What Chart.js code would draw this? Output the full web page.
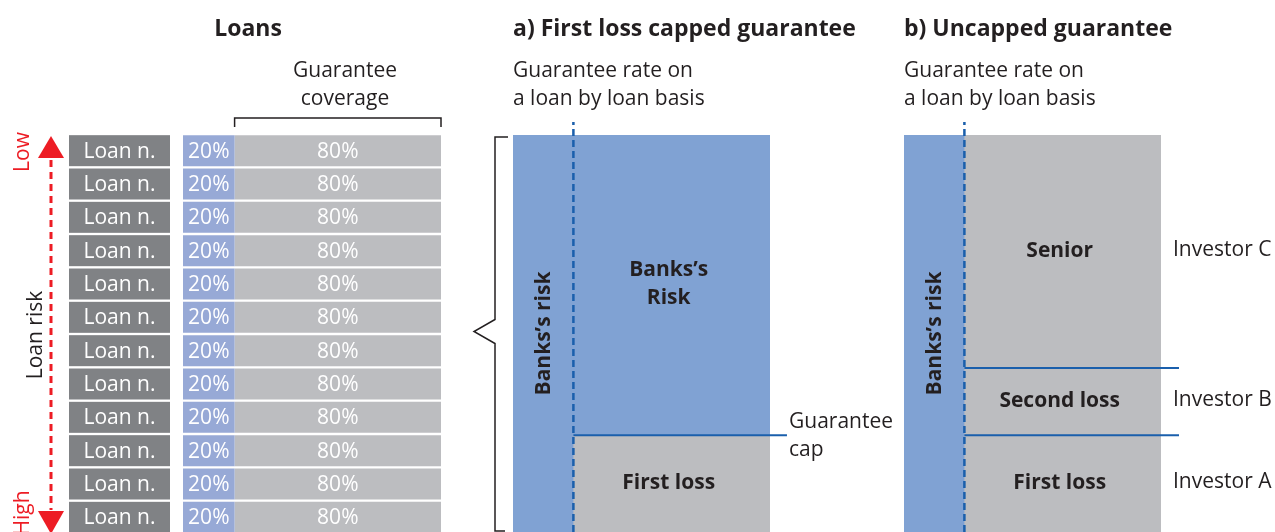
<!DOCTYPE html>
<html>
<head>
<meta charset="utf-8">
<script src="https://cdn.jsdelivr.net/npm/chart.js@4.4.1/dist/chart.umd.min.js"></script>
<style>
  body { margin: 0; width: 1275px; height: 532px; overflow: hidden; background: #fff;
         font-family: 'Open Sans', sans-serif; color: #231f20; position: relative; }
  canvas { position: absolute; top: 0; }
  .txt { position: absolute; white-space: nowrap; font-size: 21px; line-height: 28px; }
  .title { font-weight: 700; font-size: 23px; line-height: 30px; top: 12px; }
  .rot { transform: translate(-50%, -50%) rotate(-90deg); }
</style>
</head>
<body>
<canvas id="loansChart" width="460" height="534" style="left:0"></canvas>
<canvas id="cappedChart" width="360" height="532" style="left:460px"></canvas>
<canvas id="uncappedChart" width="395" height="532" style="left:880px"></canvas>

<div class="txt title" style="left:248px;transform:translateX(-50%)">Loans</div>
<div class="txt" style="left:345px;top:55px;text-align:center;transform:translateX(-50%)">Guarantee<br>coverage</div>
<div class="txt rot" style="left:21px;top:152px;color:#ed1c24">Low</div>
<div class="txt rot" style="left:21px;top:513px;color:#ed1c24">High</div>
<div class="txt rot" style="left:34px;top:335px">Loan risk</div>

<div class="txt title" style="left:513px">a) First loss capped guarantee</div>
<div class="txt" style="left:513px;top:55px">Guarantee rate on<br>a loan by loan basis</div>
<div class="txt" style="left:789px;top:406px">Guarantee<br>cap</div>

<div class="txt title" style="left:904px">b) Uncapped guarantee</div>
<div class="txt" style="left:904px;top:55px">Guarantee rate on<br>a loan by loan basis</div>

<script>
// loans table
const loanLabels = ['Loan n.', 'Loan n.', 'Loan n.', 'Loan n.', 'Loan n.', 'Loan n.',
                    'Loan n.', 'Loan n.', 'Loan n.', 'Loan n.', 'Loan n.', 'Loan n.'];
const bankShare = [20, 20, 20, 20, 20, 20, 20, 20, 20, 20, 20, 20];
const guaranteeShare = [80, 80, 80, 80, 80, 80, 80, 80, 80, 80, 80, 80];

// portfolio panels (% of loan on x, % of portfolio loss on y)
const bankStripe = 23.5;
const capLevel = 24.4;
const cappedTops = [24.4, 100];
const cappedNames = ['First loss', 'Banks\u2019s|Risk'];
const trancheTops = [24.4, 41.3, 100];
const trancheNames = ['First loss', 'Second loss', 'Senior'];
const investors = ['Investor A', 'Investor B', 'Investor C'];

const BLUE_LOAN = '#97a9d6';
const BLUE = '#80a2d3';
const GREY = '#bcbdc0';
const DARK = '#808285';
const LINE = '#1a5fac';
const RED = '#ed1c24';
const INK = '#231f20';

function rect(x0, x1, y0, y1) {
  return [{ x: x0, y: y0 }, { x: x0, y: y1 }, { x: x1, y: y1 }, { x: x1, y: y0 }, { x: x0, y: y0 }];
}

function shape(data, color, order) {
  return { data, backgroundColor: color, borderWidth: 0, fill: 'shape', pointRadius: 0, order };
}

function rule(data, dashed) {
  return { data, borderColor: LINE, borderWidth: dashed ? 2.5 : 2, borderDash: dashed ? [7, 4] : [],
           fill: false, pointRadius: 0, order: 0 };
}

function baseOptions(padding) {
  return {
    responsive: false,
    animation: false,
    events: [],
    clip: false,
    layout: { padding },
    plugins: { legend: { display: false }, tooltip: { enabled: false } },
    scales: {
      x: { type: 'linear', display: false, min: 0, max: 100 },
      y: { type: 'linear', display: false, min: 0, max: 100 }
    }
  };
}

const loanDecor = {
  id: 'loanDecor',
  beforeDatasetsDraw(chart) {
    const ctx = chart.ctx;
    const meta = chart.getDatasetMeta(0);
    ctx.save();
    ctx.font = '21px "Open Sans"';
    ctx.textAlign = 'center';
    ctx.textBaseline = 'middle';
    meta.data.forEach((bar, i) => {
      ctx.fillStyle = DARK;
      ctx.fillRect(69, bar.y - bar.height / 2, 101, bar.height);
      ctx.fillStyle = '#fff';
      ctx.fillText(loanLabels[i], 119.5, bar.y + 1);
    });
    ctx.restore();
  },
  afterDatasetsDraw(chart) {
    const ctx = chart.ctx;
    const x = chart.scales.x;
    ctx.save();
    ctx.font = '21px "Open Sans"';
    ctx.textAlign = 'center';
    ctx.textBaseline = 'middle';
    ctx.fillStyle = '#fff';
    chart.data.datasets.forEach((ds, d) => {
      chart.getDatasetMeta(d).data.forEach((bar, i) => {
        const mid = (bar.x + bar.base) / 2;
        ctx.fillText(ds.data[i] + '%', mid, bar.y + 1);
      });
    });

    // bracket over the guarantee part
    const gx0 = x.getPixelForValue(bankShare[0]);
    const gx1 = x.getPixelForValue(100);
    ctx.strokeStyle = INK;
    ctx.lineWidth = 1.5;
    ctx.beginPath();
    ctx.moveTo(gx0, 127); ctx.lineTo(gx0, 118); ctx.lineTo(gx1, 118); ctx.lineTo(gx1, 127);
    ctx.stroke();

    // risk arrow
    ctx.strokeStyle = RED;
    ctx.fillStyle = RED;
    ctx.lineWidth = 3;
    ctx.setLineDash([7, 5]);
    ctx.beginPath();
    ctx.moveTo(51, 160); ctx.lineTo(51, 510);
    ctx.stroke();
    ctx.setLineDash([]);
    ctx.beginPath();
    ctx.moveTo(51, 136); ctx.lineTo(64, 158); ctx.lineTo(38, 158); ctx.closePath();
    ctx.fill();
    ctx.beginPath();
    ctx.moveTo(51, 534); ctx.lineTo(64, 511); ctx.lineTo(38, 511); ctx.closePath();
    ctx.fill();
    ctx.restore();
  }
};

new Chart(document.getElementById('loansChart'), {
  type: 'bar',
  data: {
    labels: loanLabels,
    datasets: [
      { label: 'Bank', data: bankShare, backgroundColor: BLUE_LOAN },
      { label: 'Guarantee', data: guaranteeShare, backgroundColor: GREY }
    ]
  },
  options: {
    indexAxis: 'y',
    responsive: false,
    animation: false,
    events: [],
    layout: { padding: { left: 183, right: 19, top: 134, bottom: 0 } },
    datasets: { bar: { categoryPercentage: 1, barPercentage: 0.93, borderWidth: 0 } },
    plugins: { legend: { display: false }, tooltip: { enabled: false } },
    scales: {
      x: { stacked: true, display: false, min: 0, max: 100 },
      y: { stacked: true, display: false }
    }
  },
  plugins: [loanDecor]
});

function drawLabel(ctx, text, px, py) {
  const lines = text.split('|');
  lines.forEach((t, k) => ctx.fillText(t, px, py + (k - (lines.length - 1) / 2) * 28));
}

function panelText(tops, names, extra) {
  return {
    id: 'panelText',
    afterDatasetsDraw(chart) {
      const ctx = chart.ctx;
      const { x, y } = chart.scales;
      const area = chart.chartArea;
      ctx.save();
      ctx.fillStyle = INK;
      ctx.textAlign = 'center';
      ctx.textBaseline = 'middle';
      ctx.font = 'bold 21px "Open Sans"';
      const cx = x.getPixelForValue((bankStripe + 100) / 2) - 3;
      let lo = 0;
      tops.forEach((top, i) => {
        drawLabel(ctx, names[i], cx, y.getPixelForValue((lo + top) / 2) - 1);
        lo = top;
      });
      // vertical bank label
      ctx.translate(x.getPixelForValue(bankStripe / 2), y.getPixelForValue(50));
      ctx.rotate(-Math.PI / 2);
      ctx.fillText('Banks\u2019s risk', 0, 1);
      ctx.restore();
      if (extra) extra(chart, ctx, x, y, area);
    }
  };
}

new Chart(document.getElementById('cappedChart'), {
  type: 'line',
  data: {
    datasets: [
      shape(rect(0, 100, 0, 100), BLUE, 2),
      shape(rect(bankStripe, 100, 0, capLevel), GREY, 1),
      rule([{ x: bankStripe, y: 0 }, { x: bankStripe, y: 103.3 }], true),
      rule([{ x: bankStripe, y: capLevel }, { x: 106.6, y: capLevel }], false)
    ]
  },
  options: baseOptions({ left: 53, right: 50, top: 135, bottom: 0 }),
  plugins: [panelText(cappedTops, cappedNames, (chart, ctx, x, y, area) => {
    // brace linking the loans to the portfolio
    const bx = area.left - 18;
    const mid = (area.top + area.bottom) / 2 - 2;
    ctx.save();
    ctx.strokeStyle = INK;
    ctx.lineWidth = 1.5;
    ctx.beginPath();
    ctx.moveTo(area.left - 5, area.top + 2);
    ctx.lineTo(bx, area.top + 2);
    ctx.lineTo(bx, mid - 12);
    ctx.lineTo(bx - 21, mid);
    ctx.lineTo(bx, mid + 12);
    ctx.lineTo(bx, area.bottom - 1);
    ctx.lineTo(area.left - 8, area.bottom - 1);
    ctx.stroke();
    ctx.restore();
  })]
});

const trancheLines = trancheTops.slice(0, -1).map(t => rule([{ x: bankStripe, y: t }, { x: 107, y: t }], false));

new Chart(document.getElementById('uncappedChart'), {
  type: 'line',
  data: {
    datasets: [
      shape(rect(0, 100, 0, 100), BLUE, 2),
      shape(rect(bankStripe, 100, 0, 100), GREY, 1),
      rule([{ x: bankStripe, y: 0 }, { x: bankStripe, y: 103.3 }], true),
      ...trancheLines
    ]
  },
  options: baseOptions({ left: 24, right: 114, top: 135, bottom: 0 }),
  plugins: [panelText(trancheTops, trancheNames, (chart, ctx, x, y) => {
    ctx.save();
    ctx.fillStyle = INK;
    ctx.font = '21px "Open Sans"';
    ctx.textBaseline = 'middle';
    let lo = 0;
    trancheTops.forEach((top, i) => {
      ctx.fillText(investors[i], x.getPixelForValue(100) + 12, y.getPixelForValue((lo + top) / 2) - 2);
      lo = top;
    });
    ctx.restore();
  })]
});
</script>
</body>
</html>
